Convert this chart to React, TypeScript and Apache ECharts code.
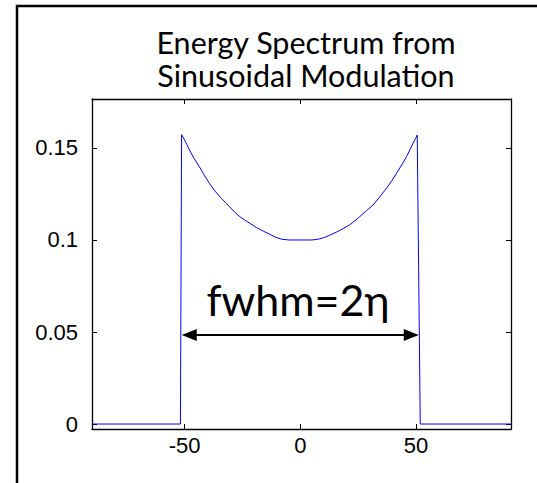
import React, { useEffect, useRef } from "react";
import * as echarts from "echarts";

// Energy spectrum curve (x = energy offset, y = probability)
const spectrumX = [
  -90, -51.8, -51.3, -50.5, -49, -47.9, -46, -43.6, -41.5, -39.3, -36.8, -34.2, -32.4, -30.6,
  -28.4, -26.2, -24, -21.9, -19, -16, -13, -10.5, -8, -5, 0, 5, 8, 10.5, 12.7, 15.6, 18.5,
  21.3, 23.5, 25.7, 28.5, 31.4, 34.3, 37.2, 39.4, 41.6, 43.8, 45.9, 47.3, 48.7, 49.8, 50.5,
  51.8, 91,
];
const spectrumY = [
  0, 0, 0.1572, 0.1555, 0.1518, 0.1489, 0.1445, 0.1398, 0.1352, 0.1308, 0.1265, 0.1227, 0.1204,
  0.1181, 0.1152, 0.1127, 0.1108, 0.1091, 0.1068, 0.1048, 0.103, 0.1014, 0.1004, 0.1, 0.1, 0.1,
  0.1005, 0.1014, 0.1026, 0.1043, 0.1062, 0.1082, 0.1104, 0.1127, 0.1158, 0.119, 0.1234, 0.1281,
  0.132, 0.1363, 0.1408, 0.1453, 0.149, 0.1526, 0.1552, 0.157, 0, 0,
];

const xTicks = [-50, 0, 50];
const yTicks = [0, 0.05, 0.1, 0.15];
const yTickLabels = ["0", "0.05", "0.1", "0.15"];

// FWHM arrow annotation (data coordinates of the line between the arrowheads)
const fwhmFrom = [-48.0, 0.0484];
const fwhmTo = [47.9, 0.0484];
const fwhmText = "fwhm=2η";
const titleLines = ["Energy Spectrum from", "Sinusoidal Modulation"];

export default function App() {
  const ref = useRef<HTMLDivElement>(null);
  useEffect(() => {
    if (!ref.current) return;
    const chart = echarts.init(ref.current, undefined, { renderer: "svg" });
    const tickFont = "'Liberation Sans', Arial, sans-serif";
    const axisCommon = {
      type: "value" as const,
      splitLine: { show: false },
      axisLine: { show: true, onZero: false, lineStyle: { color: "#000", width: 1.3 } },
    };
    chart.setOption({
      animation: false,
      backgroundColor: "#fff",
      title: {
        text: titleLines.join("\n"),
        left: 301,
        top: 20,
        textAlign: "center",
        textStyle: {
          fontFamily: "Lato, 'Open Sans', sans-serif",
          fontSize: 30.5,
          fontWeight: "normal",
          color: "#000",
          lineHeight: 33,
        },
      },
      grid: { left: 92, top: 99, width: 419, height: 330, containLabel: false },
      xAxis: [
        {
          ...axisCommon,
          position: "bottom",
          min: -90,
          max: 91,
          axisTick: { show: true, inside: true, length: 5, customValues: xTicks, lineStyle: { color: "#000" } },
          axisLabel: {
            show: true,
            customValues: xTicks,
            margin: 5,
            fontFamily: tickFont,
            fontSize: 22,
            color: "#000",
          },
        },
        {
          ...axisCommon,
          position: "top",
          min: -90,
          max: 91,
          axisTick: { show: true, inside: true, length: 5, customValues: xTicks, lineStyle: { color: "#000" } },
          axisLabel: { show: false },
        },
      ],
      yAxis: [
        {
          ...axisCommon,
          position: "left",
          min: -0.0027,
          max: 0.1766,
          axisTick: { show: true, inside: true, length: 5, customValues: yTicks, lineStyle: { color: "#000" } },
          axisLabel: {
            show: true,
            customValues: yTicks,
            margin: 14,
            fontFamily: tickFont,
            fontSize: 22,
            color: "#000",
            formatter: (v: number) => {
              const i = yTicks.findIndex((t) => Math.abs(t - v) < 1e-9);
              return i >= 0 ? yTickLabels[i] : "";
            },
          },
        },
        {
          ...axisCommon,
          position: "right",
          min: -0.0027,
          max: 0.1766,
          axisTick: { show: true, inside: true, length: 5, customValues: yTicks, lineStyle: { color: "#000" } },
          axisLabel: { show: false },
        },
      ],
      series: [
        {
          type: "line",
          data: spectrumX.map((x, i) => [x, spectrumY[i]]),
          showSymbol: false,
          symbol: "none",
          lineStyle: { color: "#0000ff", width: 1 },
          silent: true,
          markLine: {
            silent: true,
            symbol: ["triangle", "triangle"],
            symbolSize: [12, 15],
            label: { show: false },
            lineStyle: { color: "#000", width: 2, type: "solid" },
            data: [[{ coord: fwhmFrom }, { coord: fwhmTo }]],
          },
        },
      ],
      graphic: [
        {
          type: "polyline",
          shape: { points: [[17, 483], [17, 6], [537, 6]] },
          style: { stroke: "#000", lineWidth: 2.5, fill: null },
          silent: true,
        },
        {
          type: "text",
          x: 298,
          y: 299,
          style: {
            text: fwhmText,
            fontFamily: "Lato, 'Open Sans', sans-serif",
            fontSize: 43,
            fill: "#000",
            textAlign: "center",
            textVerticalAlign: "middle",
          },
          silent: true,
        },
      ],
    });
    return () => chart.dispose();
  }, []);
  return (
    <div
      ref={ref}
      style={{ position: "fixed", left: 0, top: 0, width: 537, height: 483, background: "#fff" }}
    />
  );
}
